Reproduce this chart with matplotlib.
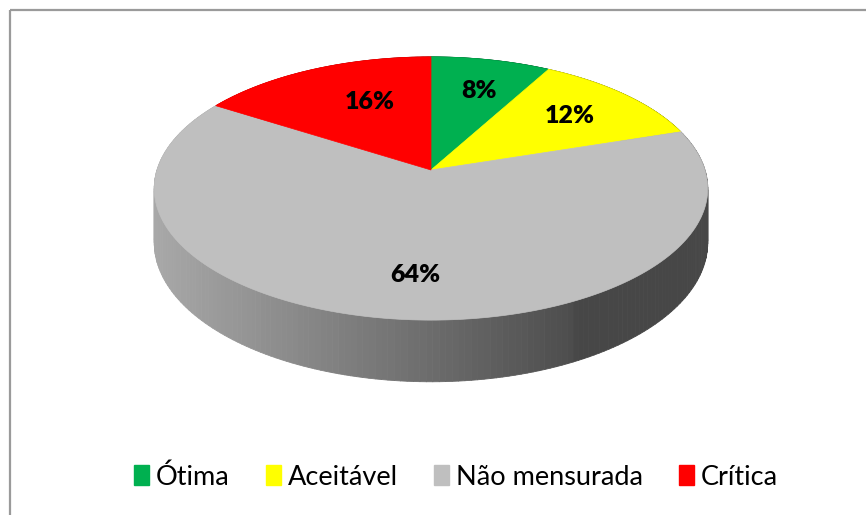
import numpy as np
import matplotlib
matplotlib.use("Agg")
import matplotlib.pyplot as plt
from matplotlib.patches import Polygon, Rectangle, Patch
from matplotlib.collections import PolyCollection
from matplotlib.colors import to_rgb

labels = ["Ótima", "Aceitável", "Não mensurada", "Crítica"]
values = [8, 12, 64, 16]
colors = ["#00B050", "#FFFF00", "#BFBFBF", "#FF0000"]

# layout of the fake 3d pie (pixels)
CX, CY = 431, 170      # apex of the top face
A, B = 274, 129        # horizontal / depth scale
K = -0.1406            # perspective factor
H = 53                 # thickness


def project(x, y, z=0.0):
    # x: right, y: toward viewer, z: down (thickness)
    w = 1 + K * y
    return CX + A * x / w, CY + (B * y + z) / w


def plane(ang, r=1.0):
    # angle measured clockwise from 12 o'clock
    return r * np.sin(ang), -r * np.cos(ang)


fig = plt.figure(figsize=(8.66, 5.15), dpi=100)
ax = fig.add_axes([0, 0, 1, 1])
ax.set_xlim(0, 866)
ax.set_ylim(515, 0)
ax.axis("off")

ax.add_patch(Rectangle((10, 10), 900, 600, fill=False, edgecolor="#9a9a9a", lw=1.6))

fracs = np.array(values) / sum(values)
bounds = np.concatenate([[0], np.cumsum(fracs)]) * 2 * np.pi

# side wall, shaded by screen x
quads, qcols = [], []
for i, c in enumerate(colors):
    base = np.array(to_rgb(c))
    t = np.linspace(bounds[i], bounds[i + 1], 200)
    for a0, a1 in zip(t[:-1], t[1:]):
        x0, y0 = plane(a0)
        x1, y1 = plane(a1)
        p = [project(x0, y0), project(x1, y1), project(x1, y1, H), project(x0, y0, H)]
        quads.append(p)
        sx = (p[0][0] + p[1][0]) / 2
        f = np.interp(sx, [155, 575, 576, 712], [0.88, 0.40, 0.37, 0.37])
        qcols.append(np.clip(base * f, 0, 1))
ax.add_collection(PolyCollection(quads, facecolors=qcols, edgecolors=qcols, lw=0.6))

# top face
for i, c in enumerate(colors):
    t = np.linspace(bounds[i], bounds[i + 1], 200)
    px, py = plane(t)
    pts = [project(0, 0)] + [project(a, b) for a, b in zip(px, py)]
    ax.add_patch(Polygon(pts, closed=True, facecolor=c, edgecolor=c, lw=0.5))

# data labels (radius and small angle nudge per slice)
lab_r = [0.7, 0.7, 0.73, 0.62]
lab_da = [1.6, 0, -3.2, 5.8]
for i, v in enumerate(values):
    mid = (bounds[i] + bounds[i + 1]) / 2 + np.radians(lab_da[i])
    x, y = plane(mid, lab_r[i])
    u, w = project(x, y)
    ax.text(u, w, f"{v}%", ha="center", va="center", fontsize=18,
            fontweight="heavy", family="Lato", color="black")

handles = [Patch(facecolor=c, edgecolor=c) for c in colors]
ax.legend(handles, labels, loc="center", bbox_to_anchor=(456 / 866, 1 - 477 / 515),
          ncol=4, frameon=False, prop={"family": "Lato", "size": 19.5},
          handlelength=0.55, handleheight=0.75, handletextpad=0.25,
          columnspacing=1.35)

fig.savefig("out.png", dpi=100, facecolor="white")
